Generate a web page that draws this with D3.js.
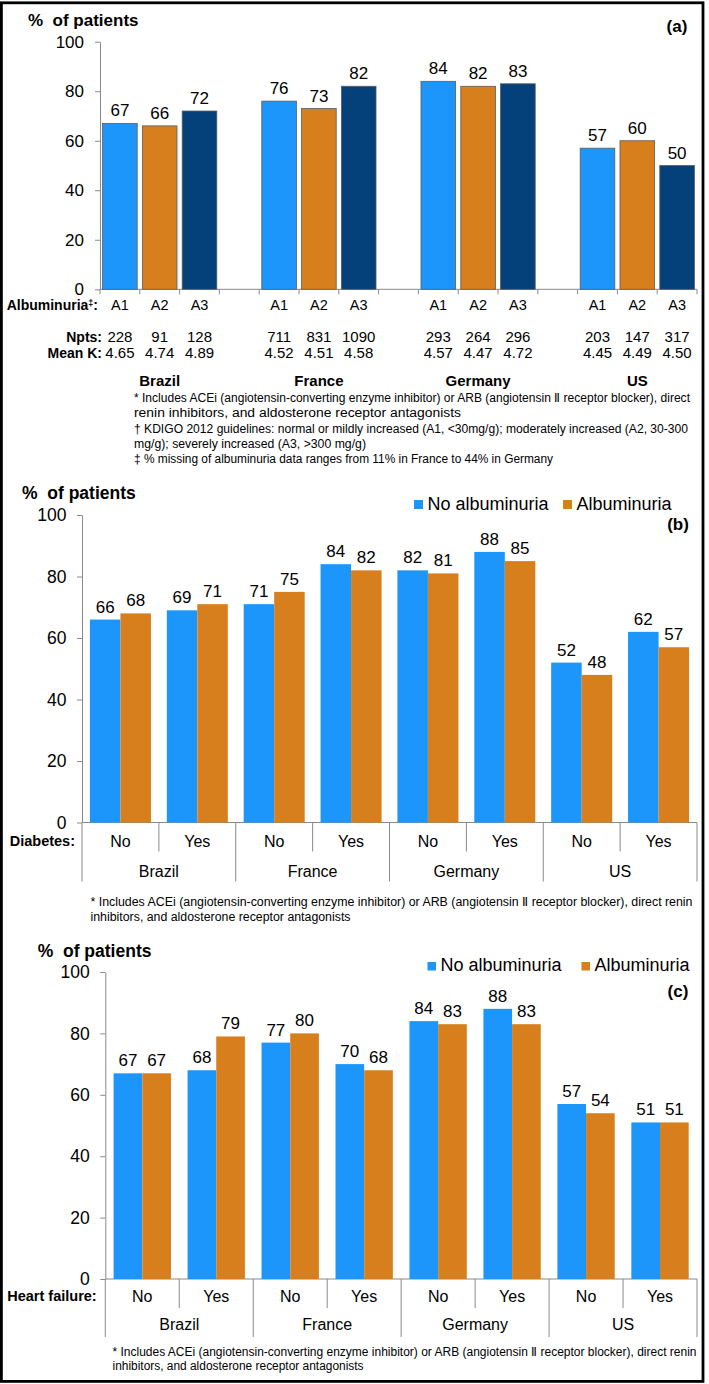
<!DOCTYPE html>
<html>
<head>
<meta charset="utf-8">
<script src="https://cdn.jsdelivr.net/npm/d3@7"></script>
<style>
  body { margin: 0; background: #fff; }
  svg text { font-family: "Liberation Sans", Arial, sans-serif; fill: #000; }
  svg text.fn { font-family: "Liberation Sans Narrow", "Liberation Sans", Arial, sans-serif; font-size: 12px; }
</style>
</head>
<body>
<div id="chart"></div>
<script>
// ---- data
const countries = ['Brazil', 'France', 'Germany', 'US']
const albuminuriaCats = ['A1', 'A2', 'A3']
// % of patients per country, A1..A3
const pctByAlbuminuria = [[67, 66, 72], [76, 73, 82], [84, 82, 83], [57, 60, 50]]
const npts = [[228, 91, 128], [711, 831, 1090], [293, 264, 296], [203, 147, 317]]
const meanK = [[4.65, 4.74, 4.89], [4.52, 4.51, 4.58], [4.57, 4.47, 4.72], [4.45, 4.49, 4.50]]
const yTicks = [0, 20, 40, 60, 80, 100]

const seriesNames = ['No albuminuria', 'Albuminuria']
const subCats = ['No', 'Yes']
// order: Brazil No, Brazil Yes, France No, France Yes, ...
const diabetesNoAlb = [66, 69, 71, 84, 82, 88, 52, 62]
const diabetesAlb = [68, 71, 75, 82, 81, 85, 48, 57]
const heartNoAlb = [67, 68, 77, 70, 84, 88, 57, 51]
const heartAlb = [67, 79, 80, 68, 83, 83, 54, 51]

const footA = [
  '* Includes ACEi (angiotensin-converting enzyme inhibitor) or ARB (angiotensin \u2161 receptor blocker), direct',
  'renin inhibitors, and aldosterone receptor antagonists',
  '\u2020 KDIGO 2012 guidelines: normal or mildly increased (A1, <30mg/g); moderately increased (A2, 30-300',
  'mg/g); severely increased (A3, >300 mg/g)',
  '\u2021 % missing of albuminuria data ranges from 11% in France to 44% in Germany'
]
const footBC = [
  '* Includes ACEi (angiotensin-converting enzyme inhibitor) or ARB (angiotensin \u2161 receptor blocker), direct renin',
  'inhibitors, and aldosterone receptor antagonists'
]

// ---- canvas
const svgWidth = 709
const svgHeight = 1384
const svg = d3.select('#chart').append('svg').attr('width', svgWidth).attr('height', svgHeight)

const blue = '#1c96fb'
const orange = '#d67f1c'
const navy = '#04407a'
const axisGray = '#8a8a8a'
const albColors = [blue, orange, navy]

// outer frame
svg.append('rect').attr('x', 1.4).attr('y', 2.8).attr('width', 701.6).attr('height', 1378.6)
  .attr('fill', 'none').attr('stroke', '#000').attr('stroke-width', 2.8)

function styleAxis(g, size) {
  g.select('.domain').attr('stroke', axisGray)
  g.selectAll('.tick line').attr('stroke', axisGray)
  g.selectAll('.tick text').attr('font-size', size).attr('font-family', null).attr('fill', '#000')
}

function footnotes(lines, x, ys, widths) {
  lines.forEach((t, i) => {
    svg.append('text').attr('class', 'fn').attr('x', x).attr('y', ys[i])
      .attr('textLength', widths[i]).attr('lengthAdjust', 'spacingAndGlyphs').text(t)
  })
}

// ================= panel (a)
const yA = d3.scaleLinear().domain([0, 100]).range([289.3, 41.7])
const slotsA = []
countries.forEach((c, i) => {
  albuminuriaCats.forEach(a => slotsA.push(c + '|' + a))
  if (i < countries.length - 1) slotsA.push('gap' + i)
})
const xA = d3.scaleBand().domain(slotsA).range([100, 697])
const bwA = xA.bandwidth()

const gA = svg.append('g')
gA.append('g').attr('transform', 'translate(100,0)')
  .call(d3.axisLeft(yA).tickValues(yTicks).tickSizeInner(5).tickSizeOuter(0).tickPadding(11))
  .call(g => styleAxis(g, 17))

// bottom axis with a tick at every slot boundary
gA.append('line').attr('x1', xA.range()[0]).attr('x2', xA.range()[1])
  .attr('y1', yA(0)).attr('y2', yA(0)).attr('stroke', axisGray)
const boundsA = slotsA.map(k => xA(k)).concat([xA.range()[1]])
gA.selectAll('.btick').data(boundsA).enter().append('line')
  .attr('x1', d => d).attr('x2', d => d).attr('y1', yA(0)).attr('y2', yA(0) + 5).attr('stroke', axisGray)

const barsA = pctByAlbuminuria.flatMap((vals, i) => vals.map((v, j) => ({
  key: countries[i] + '|' + albuminuriaCats[j], v, j, n: npts[i][j], k: meanK[i][j], cat: albuminuriaCats[j]
})))

gA.selectAll('.barA').data(barsA).enter().append('rect')
  .attr('x', d => xA(d.key) + bwA * 0.065).attr('width', bwA * 0.87)
  .attr('y', d => yA(d.v)).attr('height', d => yA(0) - yA(d.v))
  .attr('fill', d => albColors[d.j]).attr('stroke', '#5c5c5c').attr('stroke-width', 0.8)

gA.selectAll('.valA').data(barsA).enter().append('text')
  .attr('x', d => xA(d.key) + bwA / 2).attr('y', d => yA(d.v) - 7)
  .attr('text-anchor', 'middle').attr('font-size', 17).text(d => d.v)

gA.selectAll('.catA').data(barsA).enter().append('text')
  .attr('x', d => xA(d.key) + bwA / 2).attr('y', 310)
  .attr('text-anchor', 'middle').attr('font-size', 14.5).text(d => d.cat)
gA.selectAll('.nA').data(barsA).enter().append('text')
  .attr('x', d => xA(d.key) + bwA / 2).attr('y', 342)
  .attr('text-anchor', 'middle').attr('font-size', 15).text(d => d.n)
gA.selectAll('.kA').data(barsA).enter().append('text')
  .attr('x', d => xA(d.key) + bwA / 2).attr('y', 358)
  .attr('text-anchor', 'middle').attr('font-size', 15).text(d => d3.format('.2f')(d.k))

const albLabel = gA.append('text').attr('x', 98).attr('y', 310).attr('text-anchor', 'end')
  .attr('font-size', 14).attr('font-weight', 'bold')
albLabel.append('tspan').text('Albuminuria')
albLabel.append('tspan').attr('font-size', 9).attr('dy', -4).text('\u2021')
albLabel.append('tspan').attr('dy', 4).text(':')
gA.append('text').attr('x', 102).attr('y', 342).attr('text-anchor', 'end')
  .attr('font-size', 14).attr('font-weight', 'bold').text('Npts:')
gA.append('text').attr('x', 102).attr('y', 358).attr('text-anchor', 'end')
  .attr('font-size', 14).attr('font-weight', 'bold').text('Mean K:')

gA.selectAll('.countryA').data(countries).enter().append('text')
  .attr('x', d => xA(d + '|A2') + bwA / 2).attr('y', 386)
  .attr('text-anchor', 'middle').attr('font-size', 15).attr('font-weight', 'bold').text(d => d)

gA.append('text').attr('x', 28).attr('y', 26).attr('font-size', 17).attr('font-weight', 'bold')
  .style('white-space', 'pre').text('%  of patients')
gA.append('text').attr('x', 677).attr('y', 32).attr('text-anchor', 'middle')
  .attr('font-size', 17).attr('font-weight', 'bold').text('(a)')

footnotes(footA, 134, [402, 416.5, 432.5, 447.5, 462.5], [556, 327, 554, 232, 419])

// ================= panels (b) and (c)
function drawGrouped(o) {
  const g = svg.append('g')
  const y = d3.scaleLinear().domain([0, 100]).range([o.y0, o.y100])
  const keys = countries.flatMap(c => subCats.map(s => c + '|' + s))
  const x0 = d3.scaleBand().domain(keys).range([o.xl, 697])
  const x1 = d3.scaleBand().domain(seriesNames).range([0, x0.bandwidth()]).paddingInner(0).paddingOuter(o.pad)
  const colors = d3.scaleOrdinal().domain(seriesNames).range([blue, orange])

  g.append('g').attr('transform', `translate(${o.xl},0)`)
    .call(d3.axisLeft(y).tickValues(yTicks).tickSizeInner(5).tickSizeOuter(0).tickPadding(10.5))
    .call(ax => styleAxis(ax, 17.5))

  g.append('line').attr('x1', o.xl).attr('x2', 697).attr('y1', y(0)).attr('y2', y(0)).attr('stroke', axisGray)
  const bounds = keys.map(k => x0(k)).concat([697])
  g.selectAll('.div').data(bounds).enter().append('line')
    .attr('x1', d => d).attr('x2', d => d).attr('y1', y(0))
    .attr('y2', (d, i) => i % 2 === 0 ? o.groupEnd : o.innerEnd).attr('stroke', axisGray)

  const rows = keys.map((k, i) => ({ k, sub: subCats[i % 2], vals: [o.noAlb[i], o.alb[i]] }))
  const grp = g.selectAll('.grp').data(rows).enter().append('g')
    .attr('transform', d => `translate(${x0(d.k)},0)`)
  const bars = grp.selectAll('rect').data(d => d.vals.map((v, j) => ({ s: seriesNames[j], v }))).enter()
  bars.append('rect').attr('x', d => x1(d.s)).attr('width', x1.bandwidth())
    .attr('y', d => y(d.v)).attr('height', d => y(0) - y(d.v)).attr('fill', d => colors(d.s))
  bars.append('text').attr('x', d => x1(d.s) + x1.bandwidth() / 2).attr('y', d => y(d.v) - 7)
    .attr('text-anchor', 'middle').attr('font-size', 17).text(d => d.v)

  g.selectAll('.sub').data(rows).enter().append('text')
    .attr('x', d => x0(d.k) + x0.bandwidth() / 2).attr('y', o.catY)
    .attr('text-anchor', 'middle').attr('font-size', 16).text(d => d.sub)
  g.selectAll('.ctry').data(countries).enter().append('text')
    .attr('x', d => x0(d + '|Yes')).attr('y', o.countryY)
    .attr('text-anchor', 'middle').attr('font-size', 16).text(d => d)

  g.append('text').attr('x', o.rowX).attr('y', o.catY - 1).attr('text-anchor', 'end')
    .attr('font-size', 14.5).attr('font-weight', 'bold').text(o.rowLabel)

  g.append('text').attr('x', o.titleX).attr('y', o.titleY).attr('font-size', 17.5).attr('font-weight', 'bold')
    .style('white-space', 'pre').text('%  of patients')
  g.append('text').attr('x', 678).attr('y', o.tagY).attr('text-anchor', 'middle')
    .attr('font-size', 17).attr('font-weight', 'bold').text(o.tag)

  // legend
  const lg = g.selectAll('.lg').data(seriesNames).enter().append('g')
    .attr('transform', (d, i) => `translate(${o.legX[i]},${o.legY})`)
  lg.append('rect').attr('x', 0).attr('y', -o.sq).attr('width', o.sq).attr('height', o.sq).attr('fill', d => colors(d))
  lg.append('text').attr('x', o.sq + 4.5).attr('y', 0.5).attr('font-size', 18).text(d => d)

  footnotes(footBC, o.footX, o.footY, o.footW)
}

drawGrouped({
  tag: '(b)', rowLabel: 'Diabetes:', noAlb: diabetesNoAlb, alb: diabetesAlb,
  y0: 822.5, y100: 515, xl: 82, pad: 0.26,
  titleX: 22, titleY: 499, tagY: 530,
  legX: [414, 563], legY: 509, sq: 9,
  catY: 847, countryY: 877, innerEnd: 851.5, groupEnd: 881.5, rowX: 75,
  footX: 90.5, footY: [906, 921], footW: [602, 260]
})

drawGrouped({
  tag: '(c)', rowLabel: 'Heart failure:', noAlb: heartNoAlb, alb: heartAlb,
  y0: 1279, y100: 972, xl: 105.3, pad: 0.29,
  titleX: 37.7, titleY: 957, tagY: 997,
  legX: [427.5, 581.5], legY: 970.5, sq: 8.5,
  catY: 1302, countryY: 1330, innerEnd: 1308, groupEnd: 1337, rowX: 96.7,
  footX: 112.5, footY: [1356, 1369.5], footW: [584, 251]
})
</script>
</body>
</html>
